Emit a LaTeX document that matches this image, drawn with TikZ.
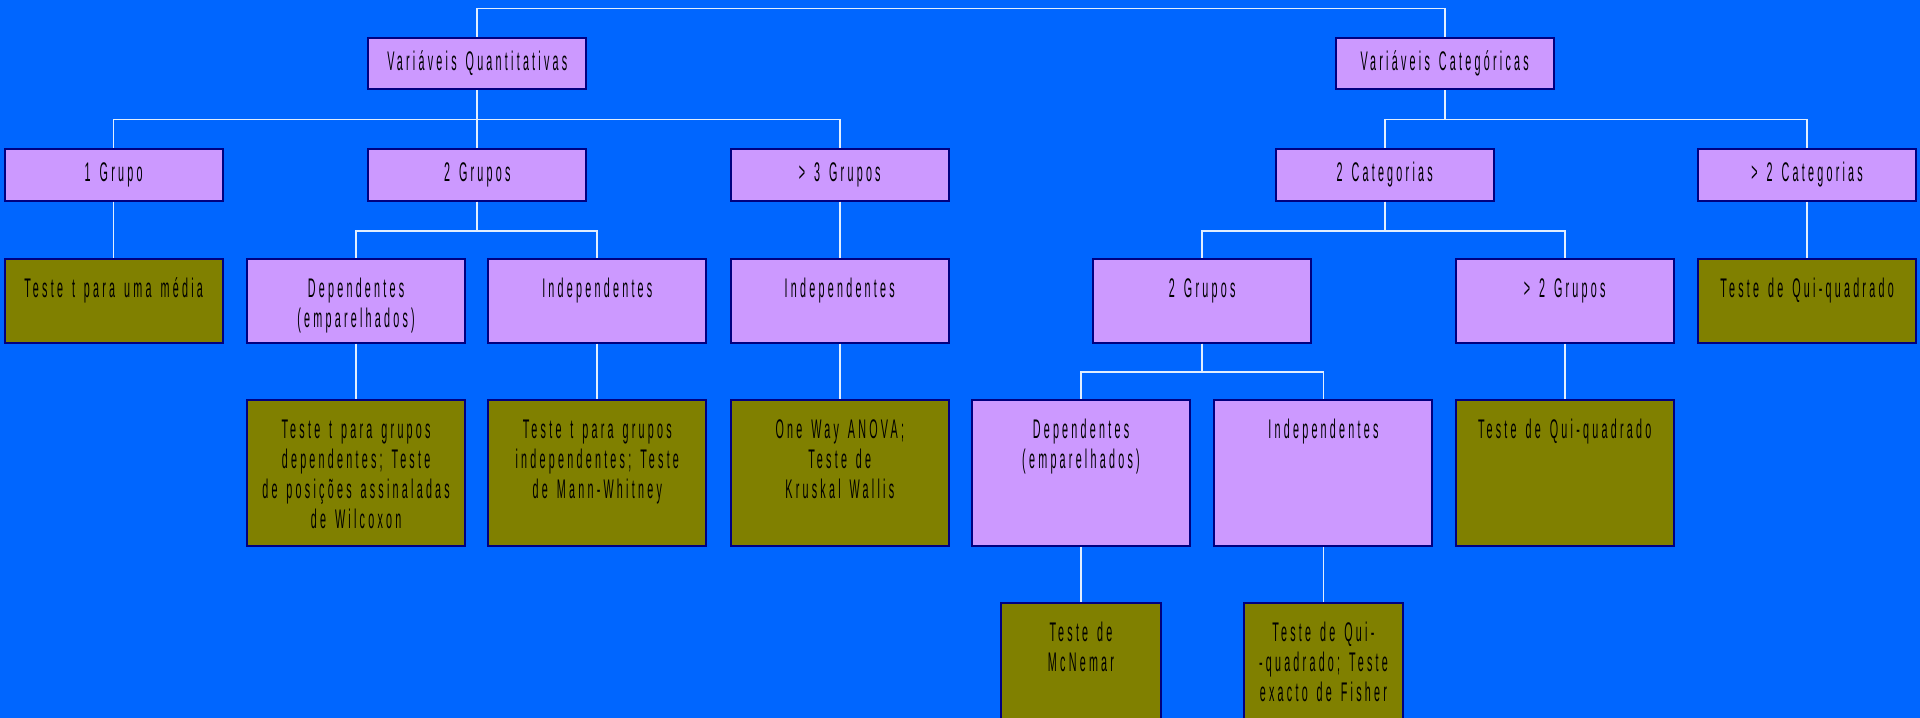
\documentclass[tikz,border=0pt]{standalone}
\usepackage{fontspec}
\newfontfamily\boxfont[FakeStretch=0.4,LetterSpace=12]{Liberation Sans}
\usetikzlibrary{positioning}

\definecolor{bgblue}{RGB}{0,102,255}
\definecolor{lilac}{RGB}{204,153,255}
\definecolor{olivebox}{RGB}{128,128,0}
\definecolor{edge}{RGB}{0,0,128}
\definecolor{wire}{RGB}{225,238,255}

\tikzset{
  box/.style={draw=edge, line width=0.8pt, anchor=north west, inner sep=0pt,
    minimum width=89pt, text width=89pt, align=center,
    font=\boxfont\fontsize{11}{12.3}\selectfont},
  head/.style={box, fill=lilac, minimum height=21pt},
  cat/.style={box, fill=lilac, text height=15.5pt},
  test/.style={box, fill=olivebox, text height=15.5pt},
  short/.style={text depth=18.5pt},
  tall/.style={text depth=44pt},
  small/.style={minimum width=65pt, text width=65pt, text depth=55pt},
  link/.style={draw=wire, line width=0.7pt}
}

\begin{document}
\begin{tikzpicture}[x=0.5pt, y=-0.5pt]
  \useasboundingbox (0,0) rectangle (1568,586);
  \clip (0,0) rectangle (1568,586);
  \fill[bgblue] (0,0) rectangle (1568,586);

  % first two levels
  \node[head] (vq) at (300,30) {Variáveis Quantitativas};
  \node[head] (vc) at (1090,30) {Variáveis Categóricas};
  \node[head] (g1) at (3,121) {1 Grupo};
  \node[head] (g2) at (300,121) {2 Grupos};
  \node[head] (g3) at (596,121) {> 3 Grupos};
  \node[head] (c2) at (1041,121) {2 Categorias};
  \node[head] (c3) at (1386,121) {> 2 Categorias};

  % third level
  \node[test, short] (tm) at (3,211) {Teste t para uma média};
  \node[cat, short] (dep) at (201,211) {Dependentes\\(emparelhados)};
  \node[cat, short] (ind) at (398,211) {Independentes};
  \node[cat, short] (ind3) at (596,211) {Independentes};
  \node[cat, short] (cg2) at (892,211) {2 Grupos};
  \node[cat, short] (cg3) at (1188,211) {> 2 Grupos};
  \node[test, short] (qq1) at (1386,211) {Teste de Qui-quadrado};

  % fourth level
  \node[test, tall] (tdep) at (201,326) {Teste t para grupos\\dependentes; Teste\\de posições assinaladas\\de Wilcoxon};
  \node[test, tall] (tind) at (398,326) {Teste t para grupos\\independentes; Teste\\de Mann-Whitney};
  \node[test, tall] (anova) at (596,326) {One Way ANOVA;\\Teste de\\Kruskal Wallis};
  \node[cat, tall] (cdep) at (793,326) {Dependentes\\(emparelhados)};
  \node[cat, tall] (cind) at (991,326) {Independentes};
  \node[test, tall] (qq2) at (1188,326) {Teste de Qui-quadrado};

  % last level
  \node[test, small] (mcn) at (817,492) {Teste de\\McNemar};
  \node[test, small] (fish) at (1015,492) {Teste de Qui-\\-quadrado; Teste\\exacto de Fisher};

  % connectors
  \draw[link] (vq.north) -- ++(0,-23) -| (vc.north);
  \foreach \c in {g1,g2,g3}
    \draw[link] (vq.south) -- ++(0,24) -| (\c.north);
  \foreach \c in {c2,c3}
    \draw[link] (vc.south) -- ++(0,24) -| (\c.north);
  \foreach \c in {dep,ind}
    \draw[link] (g2.south) -- ++(0,24) -| (\c.north);
  \foreach \c in {cg2,cg3}
    \draw[link] (c2.south) -- ++(0,24) -| (\c.north);
  \foreach \c in {cdep,cind}
    \draw[link] (cg2.south) -- ++(0,23) -| (\c.north);
  \draw[link] (g1) -- (tm);
  \draw[link] (g3) -- (ind3);
  \draw[link] (c3) -- (qq1);
  \draw[link] (dep) -- (tdep);
  \draw[link] (ind) -- (tind);
  \draw[link] (ind3) -- (anova);
  \draw[link] (cg3) -- (qq2);
  \draw[link] (cdep) -- (mcn);
  \draw[link] (cind) -- (fish);
\end{tikzpicture}
\end{document}
